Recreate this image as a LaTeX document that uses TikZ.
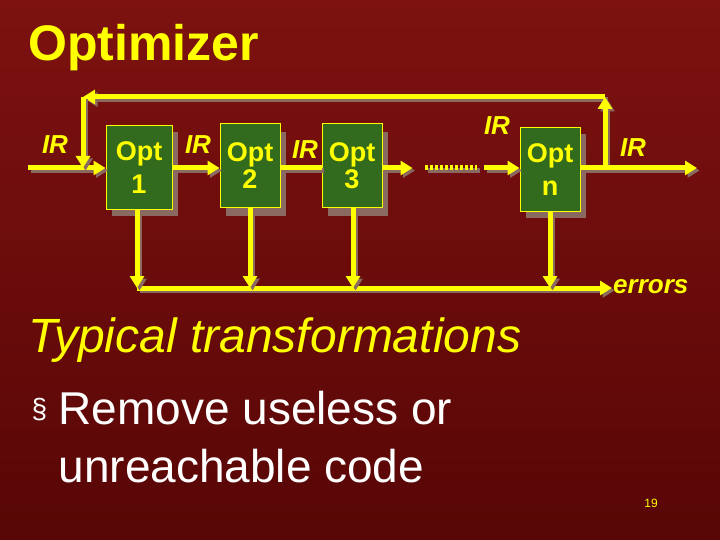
\documentclass[tikz,border=0pt]{standalone}
\usepackage{fontspec}
\setmainfont{Liberation Sans}
\usetikzlibrary{arrows.meta}
\definecolor{ylw}{HTML}{FFFF00}
\definecolor{bx}{HTML}{336B1E}
\definecolor{shd}{HTML}{8A6A60}
\begin{document}
\begin{tikzpicture}[x=1pt,y=-1pt,
  optbox/.style={draw=ylw,line width=1pt,fill=bx,text=ylw,font=\bfseries\fontsize{27}{33}\selectfont,align=center,inner sep=0pt},
  flow/.style={draw=ylw,line width=5pt,-{Triangle[length=12pt,width=14pt]}},
  flown/.style={draw=ylw,line width=5pt},
  shadowed/.style={preaction={draw=shd,line width=5pt,transform canvas={shift={(2.5pt,-2.5pt)}}}},
  lbl/.style={text=ylw,font=\bfseries\itshape\fontsize{26}{26}\selectfont,inner sep=0pt}]
\shade[top color={rgb,255:red,125;green,18;blue,16},bottom color={rgb,255:red,88;green,6;blue,6}] (0,0) rectangle (720,540);
\useasboundingbox (0,0) rectangle (720,540);
\node[anchor=west,text=ylw,font=\bfseries\fontsize{50}{50}\selectfont] (title) at (25,48) {Optimizer};
\foreach \a/\b/\c/\d in {106/126/172/210,220/126/280/210,322/126/382/210,520/128/580/212}
  \fill[shd] (\a+6,\b+6) rectangle (\c+6,\d+6);
\node[optbox,minimum width=66pt,minimum height=84pt] (o1) at (139,168) {Opt\\1};
\node[optbox,minimum width=60pt,minimum height=84pt] (o2) at (250,166) {Opt\\[-6pt]2};
\node[optbox,minimum width=60pt,minimum height=84pt] (o3) at (352,166) {Opt\\[-6pt]3};
\node[optbox,minimum width=60pt,minimum height=84pt] (on) at (550,170) {Opt\\n};
\coordinate (in) at (28,168);
\coordinate (fbl) at (83,97);
\coordinate (fbr) at (605,97);
\coordinate (fbd) at (83,168);
\coordinate (split) at (605,168);
\coordinate (out) at (697,168);
\coordinate (d1) at (425,168);
\coordinate (d2) at (477,168);
\coordinate (pn) at (484,168);
\coordinate (e0) at (137,288);
\coordinate (e1) at (250,288);
\coordinate (e2) at (353,288);
\coordinate (e3) at (550,288);
\coordinate (eend) at (612,288);
\draw[flow,shadowed] (in) -- (o1.west |- in);
\draw[flow,shadowed] (fbr) -- (fbl);
\draw[flow,shadowed] (fbl) -- (fbd);
\draw[flow,shadowed] (split) -- (fbr);
\draw[flow,shadowed] (on.east |- out) -- (out);
\draw[flow,shadowed] (o1.east |- in) -- (o2.west |- in);
\draw[flown,shadowed] (o2.east |- in) -- (o3.west |- in);
\draw[flow,shadowed] (o3.east |- in) -- ++(30,0);
\draw[draw=ylw,line width=5pt,dash pattern=on 3pt off 2pt,shadowed] (d1) -- (d2);
\draw[flow,shadowed] (pn) -- (on.west |- pn);
\draw[flow,shadowed] (e0) -- (eend);
\draw[flow,shadowed] (o1.south -| e0) -- (e0);
\draw[flow,shadowed] (o2.south) -- (e1);
\draw[flow,shadowed] (o3.south -| e2) -- (e2);
\draw[flow,shadowed] (on.south) -- (e3);
\node[lbl] (l1) at (55,145) {IR};
\node[lbl] (l2) at (198,145) {IR};
\node[lbl] (l3) at (305,150) {IR};
\node[lbl] (l4) at (497,126) {IR};
\node[lbl] (l5) at (633,148) {IR};
\node[lbl,anchor=west] (err) at (613,287) {errors};
\node[anchor=west,text=ylw,font=\itshape\fontsize{48}{48}\selectfont] (t1) at (25,340) {Typical transformations};
\node[anchor=west,text=white,font=\fontsize{28}{28}\selectfont] (bul) at (28,410) {§};
\node[anchor=west,text=white,font=\fontsize{46}{46}\selectfont] (b1) at (55,408) {Remove useless or};
\node[anchor=west,text=white,font=\fontsize{46}{46}\selectfont] (b2) at (55,466) {unreachable code};
\node[text=ylw,font=\fontsize{12}{12}\selectfont] (pg) at (651,503) {19};
\end{tikzpicture}
\end{document}
